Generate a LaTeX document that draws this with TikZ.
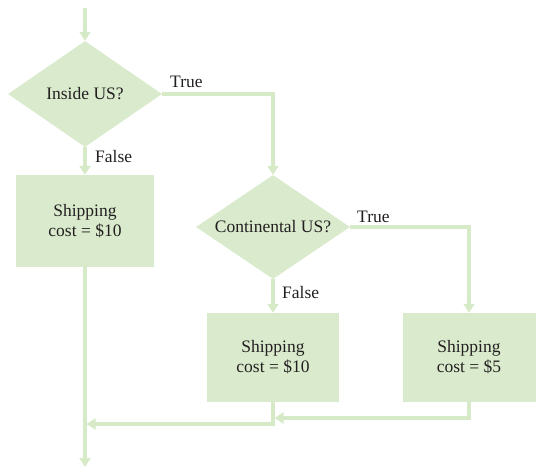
\documentclass[tikz,border=0pt]{standalone}
\usepackage{fontspec}
\setmainfont{Liberation Serif}
\usetikzlibrary{shapes.geometric,arrows.meta}
\definecolor{flowgreen}{RGB}{217,235,204}
\definecolor{flowline}{RGB}{214,234,200}
\definecolor{flowtext}{RGB}{35,31,32}
\begin{document}
\begin{tikzpicture}[x=1pt,y=-1pt,
  every node/.style={font=\fontsize{17.5}{20}\selectfont, text=flowtext},
  decision/.style={diamond, fill=flowgreen, inner sep=0pt, aspect=1.46, minimum width=154pt, minimum height=106pt, align=center},
  action/.style={rectangle, fill=flowgreen, inner sep=0pt, align=center},
  conn/.style={draw=flowline, line width=3.2pt, -{Triangle[width=11pt,length=9pt]}},
  lbl/.style={anchor=base west, inner sep=0pt}]
\useasboundingbox (0,0) rectangle (548,469);

\node[decision] (d1) at (85,94) {Inside US?};
\node[action, minimum width=138pt, minimum height=92pt] (b1) at (85,221) {Shipping\\cost = \$10};
\node[decision, minimum height=104pt, aspect=1.48] (d2) at (273,227) {Continental US?};
\node[action, minimum width=132pt, minimum height=89pt] (b2) at (273,357.5) {Shipping\\cost = \$10};
\node[action, minimum width=133pt, minimum height=89pt] (b3) at (469,357.5) {Shipping\\cost = \$5};

\coordinate (start) at (85,8);
\coordinate (m2) at (274.5,418);
\coordinate (m1) at (86.5,424);
\coordinate (finish) at (85,467);

\draw[conn] (start) -- (d1.north);
\draw[conn] (d1.east) -| (d2.north);
\draw[conn] (d1.south) -- (b1.north);
\draw[conn] (d2.east) -| (b3.north);
\draw[conn] (d2.south) -- (b2.north);
\draw[conn] (b3.south) |- (m2);
\draw[conn] (b2.south) |- (m1);
\draw[conn] (b1.south) -- (finish);

\node[lbl] (t1) at (170,87) {True};
\node[lbl] (f1) at (95,162) {False};
\node[lbl] (t2) at (357,222) {True};
\node[lbl] (f2) at (282,298) {False};
\end{tikzpicture}
\end{document}
